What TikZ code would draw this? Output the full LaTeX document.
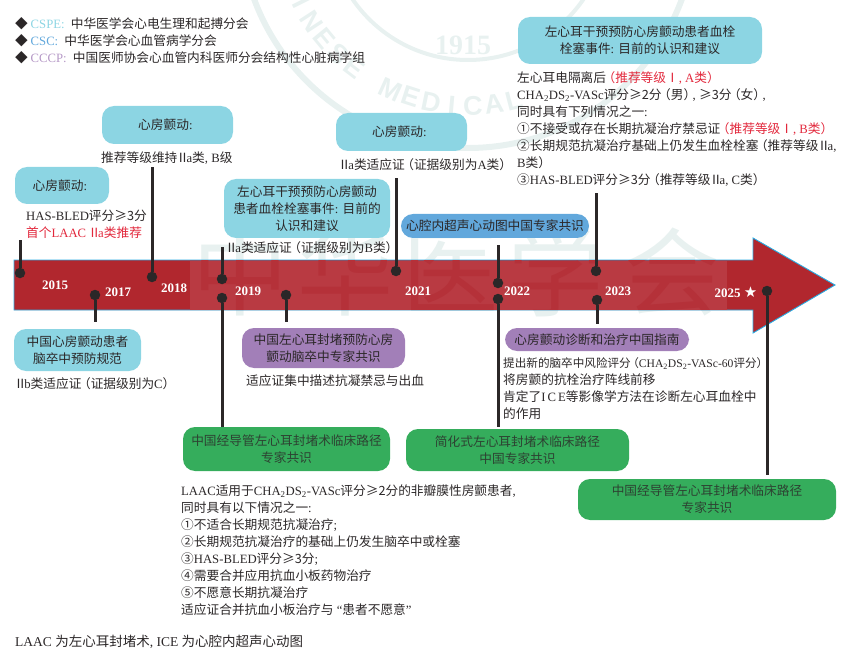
\documentclass[tikz,border=0pt]{standalone}
\usepackage{fontspec}
\usepackage{xcolor}
\setmainfont{Noto Sans CJK SC}
\newfontfamily\latf{Liberation Serif}
\newfontfamily\sealf{Liberation Sans}
\newfontfamily\symf{DejaVu Sans}
\newcommand{\en}[1]{{\latf #1}}
\newcommand{\subd}[1]{\textsubscript{\latf #1}}
\newcommand{\lpar}{\hspace{-3.5pt}（}
\newcommand{\rpar}{）\hspace{-3.5pt}}
\newcommand{\cma}{\en{, }}
\newcommand{\cln}{\en{: }}
\newcommand{\romII}{\hspace{-1pt}Ⅱ\hspace{-2.5pt}}
\definecolor{cfcyan}{HTML}{8CD5E3}
\definecolor{csblue}{HTML}{62A8DC}
\definecolor{cspurple}{HTML}{A27FB8}
\definecolor{csgreen}{HTML}{35AD5C}
\definecolor{bandred}{HTML}{B1272E}
\definecolor{bandlight}{HTML}{B93A42}
\definecolor{bandedge}{HTML}{29ABE2}
\definecolor{inkdark}{HTML}{2B2728}
\definecolor{inkred}{HTML}{E2283C}
\definecolor{sealgrey}{HTML}{E8F1F0}
\tikzset{
 body/.style={font=\fontsize{12.7}{17}\selectfont,text=inkdark,inner sep=0pt,align=left,anchor=north west,yshift=-3.5pt},
 guide/.style={rounded corners=12pt,inner sep=0pt,align=center,font=\fontsize{12.7}{17}\selectfont,text=inkdark},
 dot/.style={circle,fill=inkdark,inner sep=0pt,minimum size=10.5pt},
 stem/.style={draw=inkdark,line width=3pt},
 year/.style={font=\latf\bfseries\fontsize{13}{13}\selectfont,text=white,inner sep=0pt},
 seal/.style={font=\fontsize{96}{96}\selectfont,inner sep=0pt},
 sealtext/.style={text=sealgrey,font=\sealf\bfseries\fontsize{27}{27}\selectfont,inner sep=0pt}
}
\begin{document}
\begin{tikzpicture}[x=1pt,y=-1pt]
\useasboundingbox (0,0) rectangle (863,650);
\draw [sealgrey,line width=6pt] (468,-80) circle (228);
\draw [sealgrey,line width=4pt] (468,-80) circle (140);
\foreach \ch [count=\i] in {I,N,E,S,E,{ },M,E,D,I,C,A,L}{
 \pgfmathsetmacro{\ang}{160-\i*6.5}
 \node [sealtext,rotate=90-\ang] (wm\i) at ({468+186*cos(\ang)},{-80+186*sin(\ang)}) {\ch};
 }
\node [sealtext,font=\latf\bfseries\fontsize{28}{28}\selectfont] (wmyear) at (463,45) {1915};
\foreach \ch/\x in {中/240,华/345,医/450,学/555,会/672}{
 \node [seal,text=sealgrey] (wmseal\x) at (\x,272) {\ch};
 }
\draw [fill=bandred,draw=bandedge,line width=0.9pt] (14,260) -- (753,260) -- (753,238) -- (835,285) -- (753,333) -- (753,310) -- (14,310) -- cycle;
\fill [bandlight] (190,260.5) rectangle (727,309.5);
\begin{scope}
\clip (190,260.5) rectangle (727,309.5);
\foreach \ch/\x in {中/240,华/345,医/450,学/555,会/672}{
 \node [seal,text=bandlight!55!bandred] (wmband\x) at (\x,272) {\ch};
 }
\end{scope}
\foreach \yr/\x/\y in {2015/55/285,2017/118/292,2018/174/288,2019/248/291,2021/418/291,2022/517/291,2023/618/291}{
 \node [year] (y\yr) at (\x,\y) {\yr};
 }
\node [year] (y2025) at (736,292) {2025 {\symf\fontsize{15}{15}\selectfont ★}};
\foreach \name/\x/\y/\yend in {a/20/273/240,b/95/295/322,c/152/277/167,d/222/279/247,e/222/298/427,f/286/295/322,g/396/271/178,h/498/283/245,i/498/299/427,j/596/271/193,k/597/300/324,l/767/291/475}{
 \coordinate (end\name) at (\x,\yend);
 \node [dot] (dot\name) at (\x,\y) {};
 \draw [stem] (dot\name) -- (end\name);
 }
\foreach \name/\x/\y/\w/\h/\txt in {
 afA/62/185.5/94/37/{心房颤动\cln},
 afB/167.5/125/131/38/{心房颤动\cln},
 afC/401.5/132/131/38/{心房颤动\cln},
 laD/307/208.5/166/59/{左心耳干预预防心房颤动\\患者血栓栓塞事件\cln 目前的\\认识和建议},
 laE/640/40.5/244/47/{左心耳干预预防心房颤动患者血栓\\栓塞事件\cln 目前的认识和建议},
 cnG/77.5/350/127/42/{中国心房颤动患者\\脑卒中预防规范}}{
 \node [guide,fill=cfcyan,minimum width=\w,minimum height=\h] (\name) at (\x,\y) {\txt};
 }
\node [guide,fill=csblue,minimum width=188,minimum height=24] (iceF) at (495,226) {心腔内超声心动图中国专家共识};
\foreach \name/\x/\y/\w/\h/\txt in {
 lpH/323.5/348/163/40/{中国左心耳封堵预防心房\\颤动脑卒中专家共识},
 dxI/597/339.5/184/23/{心房颤动诊断和治疗中国指南}}{
 \node [guide,fill=cspurple,minimum width=\w,minimum height=\h] (\name) at (\x,\y) {\txt};
 }
\foreach \name/\x/\y/\w/\h/\txt in {
 paJ/286.5/449/207/44/{中国经导管左心耳封堵术临床路径\\专家共识},
 paK/517.5/450/223/42/{简化式左心耳封堵术临床路径\\中国专家共识},
 paL/707/499.5/258/41/{中国经导管左心耳封堵术临床路径\\专家共识}}{
 \node [guide,fill=csgreen,text=inkdark!80!csgreen,minimum width=\w,minimum height=\h] (\name) at (\x,\y) {\txt};
 }
\node [body] (legend) at (15,14) {◆ {\color{cfcyan}\en{CSPE}\cln}\hspace{3pt}中华医学会心电生理和起搏分会\\◆ {\color{csblue}\en{CSC}\cln}\hspace{3pt}中华医学会心血管病学分会\\◆ {\color{cspurple!80!white}\en{CCCP}\cln}\hspace{3pt}中国医师协会心血管内科医师分会结构性心脏病学组};
\node [body] (txtA) at (26,206) {\en{HAS-BLED}评分≥3分\\{\color{inkred}首个\en{LAAC} \romII\en{a}类推荐}};
\node [body] (txtB) at (101,148) {推荐等级维持\romII\en{a}类\cma\en{B}级};
\node [body] (txtC) at (339,155) {\romII\en{a}类适应证\lpar 证据级别为\en{A}类\rpar};
\node [body] (txtD) at (226,238) {\romII\en{a}类适应证\lpar 证据级别为\en{B}类\rpar};
\node [body] (txtE) at (517,68) {左心耳电隔离后{\color{inkred}\lpar 推荐等级Ⅰ\cma\en{A}类\rpar}\\\en{CHA}\subd{2}\en{DS}\subd{2}\en{-VASc}评分≥2分\lpar 男\rpar\cma≥3分\lpar 女\rpar\cma\\同时具有下列情况之一\cln\\①不接受或存在长期抗凝治疗禁忌证{\color{inkred}\lpar 推荐等级Ⅰ\cma\en{B}类\rpar}\\②长期规范抗凝治疗基础上仍发生血栓栓塞\lpar 推荐等级\romII\en{a}\cma\\\en{B}类\rpar\\③\en{HAS-BLED}评分≥3分\lpar 推荐等级\romII\en{a}\cma\en{C}类\rpar};
\node [body] (txtG) at (15,374) {\romII\en{b}类适应证\lpar 证据级别为\en{C}\rpar};
\node [body] (txtH) at (246,371) {适应证集中描述抗凝禁忌与出血};
\node [body] (txtI) at (503,354) {{\fontsize{11.6}{17}\selectfont 提出新的脑卒中风险评分\lpar\en{CHA}\subd{2}\en{DS}\subd{2}\en{-VASc-60}评分\rpar}\\将房颤的抗栓治疗阵线前移\\肯定了\en{I\,C\,E}等影像学方法在诊断左心耳血栓中\\的作用};
\node [body] (txtJ) at (181,481) {\en{LAAC}适用于\en{CHA}\subd{2}\en{DS}\subd{2}\en{-VASc}评分≥2分的非瓣膜性房颤患者\cma\\同时具有以下情况之一\cln\\①不适合长期规范抗凝治疗\en{;}\\②长期规范抗凝治疗的基础上仍发生脑卒中或栓塞\\③\en{HAS-BLED}评分≥3分\en{;}\\④需要合并应用抗血小板药物治疗\\⑤不愿意长期抗凝治疗\\适应证合并抗血小板治疗与\en{ “}患者不愿意\en{”}};
\node [body,font=\fontsize{13.5}{17}\selectfont] (note) at (15,631) {\en{LAAC }为左心耳封堵术\cma\en{ICE }为心腔内超声心动图};
\end{tikzpicture}
\end{document}
